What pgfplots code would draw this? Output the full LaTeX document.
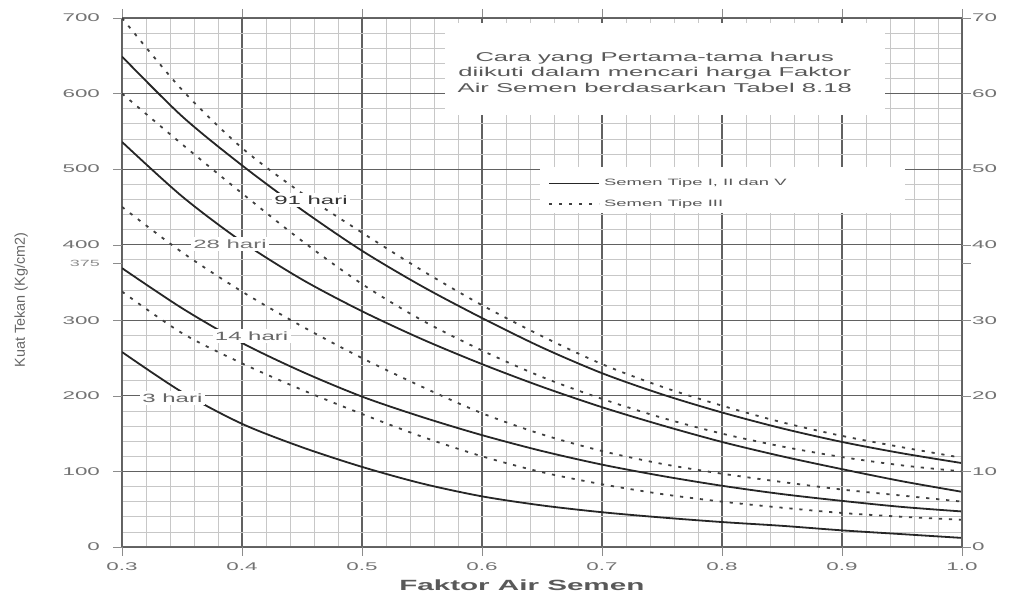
\documentclass[border=0pt]{standalone}
\usepackage{fontspec}
\setmainfont{Liberation Sans}
\newfontfamily\wide[FakeStretch=2]{Liberation Sans}
\usepackage{pgfplots}
\pgfplotsset{compat=1.18}
\begin{document}
\begin{tikzpicture}[x=1pt,y=1pt]
\useasboundingbox (0,0) rectangle (507,298.5);
\begin{axis}[
  at={(61pt,25pt)}, anchor=south west,
  scale only axis, width=420pt, height=264.5pt,
  xmin=0.3, xmax=1.0, ymin=0, ymax=700,
  xtick={0.3,0.4,0.5,0.6,0.7,0.8,0.9,1.0},
  xticklabels={0.3,0.4,0.5,0.6,0.7,0.8,0.9,1.0},
  minor x tick num=4,
  ytick={0,100,200,300,400,500,600,700},
  extra y ticks={375},
  extra y tick style={grid=none, yticklabel style={font=\wide\fontsize{4.5}{5}\selectfont, text=black!45}},
  minor y tick num=4,
  grid=both,
  major grid style={black!62, line width=0.6pt},
  minor grid style={black!22, line width=0.35pt},
  axis line style={black!60, line width=0.5pt},
  tick style={black!45},
  tick align=outside,
  major tick length=4.5pt,
  minor tick length=0pt,
  /pgf/number format/assume math mode=true,
  ticklabel style={font=\wide\fontsize{5.6}{6}\selectfont, text=black!55},
  yticklabel style={xshift=-3pt},
  xticklabel style={yshift=0pt},
  xlabel={Faktor Air Semen},
  xlabel style={font=\wide\fontsize{7.4}{8}\selectfont\bfseries, text=black!65, at={(axis description cs:0.476,0)}, anchor=center, yshift=-19pt},
  ylabel={Kuat Tekan (Kg/cm2)},
  ylabel style={font=\fontsize{7.2}{8}\selectfont, text=black!60, at={(axis description cs:-0.1202,0.467)}, anchor=center, rotate=0},
  legend style={at={(rel axis cs:0.5,0.712)}, anchor=north west, draw=none, fill=none,
    font=\wide\fontsize{4.6}{5}\selectfont, text=black!65, row sep=1.5pt},
  legend cell align=left,
  legend image code/.code={\draw[#1] (0pt,0pt) -- (25pt,0pt);},
]
\fill[white] (rel axis cs:0.3845,0.8166) rectangle (rel axis cs:0.908,0.99);
\fill[white] (rel axis cs:0.4976,0.631) rectangle (rel axis cs:0.932,0.718);

\addlegendimage{black!85, line width=0.9pt}
\addlegendentry{Semen Tipe I, II dan V}
\addlegendimage{black!75, line width=0.9pt, dash pattern=on 1.6pt off 3.4pt}
\addlegendentry{Semen Tipe III}

% Type III (dotted)
\addplot[forget plot, black!75, line width=0.9pt, dash pattern=on 1.6pt off 3.4pt, smooth, tension=0.5] coordinates {
(0.30,700) (0.35,605) (0.40,528) (0.45,468) (0.50,416) (0.55,366) (0.60,320) (0.65,279) (0.70,242) (0.75,212) (0.80,187) (0.85,165) (0.90,147) (0.95,132) (1.00,118)};
\addplot[forget plot, black!75, line width=0.9pt, dash pattern=on 1.6pt off 3.4pt, smooth, tension=0.5] coordinates {
(0.30,600) (0.35,533) (0.40,468) (0.45,405) (0.50,348) (0.55,300) (0.60,260) (0.65,225) (0.70,196) (0.75,171) (0.80,150) (0.85,133) (0.90,119) (0.95,108) (1.00,100)};
\addplot[forget plot, black!75, line width=0.9pt, dash pattern=on 1.6pt off 3.4pt, smooth, tension=0.5] coordinates {
(0.30,450) (0.35,390) (0.40,338) (0.45,292) (0.50,250) (0.55,212) (0.60,177) (0.65,149) (0.70,127) (0.75,110) (0.80,97) (0.85,86) (0.90,76) (0.95,68) (1.00,60)};
\addplot[forget plot, black!75, line width=0.9pt, dash pattern=on 1.6pt off 3.4pt, smooth, tension=0.5] coordinates {
(0.30,338) (0.35,283) (0.40,243) (0.45,208) (0.50,176) (0.55,146) (0.60,120) (0.65,99) (0.70,83) (0.75,70) (0.80,60) (0.85,52) (0.90,45) (0.95,40) (1.00,36)};

% Type I, II, V (solid)
\addplot[forget plot, black!85, line width=0.9pt, smooth, tension=0.5] coordinates {
(0.30,649) (0.35,570) (0.40,505) (0.45,446) (0.50,392) (0.55,345) (0.60,303) (0.65,264) (0.70,230) (0.75,202) (0.80,178) (0.85,157) (0.90,139) (0.95,124) (1.00,111)};
\addplot[forget plot, black!85, line width=0.9pt, smooth, tension=0.5] coordinates {
(0.30,536) (0.35,464) (0.40,404) (0.45,354) (0.50,312) (0.55,275) (0.60,242) (0.65,212) (0.70,185) (0.75,161) (0.80,139) (0.85,120) (0.90,103) (0.95,87) (1.00,73)};
\addplot[forget plot, black!85, line width=0.9pt, smooth, tension=0.5] coordinates {
(0.30,369) (0.35,316) (0.40,270) (0.45,232) (0.50,199) (0.55,172) (0.60,148) (0.65,127) (0.70,109) (0.75,94) (0.80,81) (0.85,70) (0.90,61) (0.95,53) (1.00,47)};
\addplot[forget plot, black!85, line width=0.9pt, smooth, tension=0.5] coordinates {
(0.30,258) (0.35,205) (0.40,163) (0.45,132) (0.50,106) (0.55,84) (0.60,67) (0.65,55) (0.70,46) (0.75,39) (0.80,33) (0.85,28) (0.90,22) (0.95,17) (1.00,12)};

\node[fill=white, inner sep=1.2pt, font=\wide\fontsize{6}{7}\selectfont, text=black!80] at (axis cs:0.4575,459) {91 hari};
\node[fill=white, inner sep=1.2pt, font=\wide\fontsize{6}{7}\selectfont, text=black!55] at (axis cs:0.39,401) {28 hari};
\node[fill=white, inner sep=1.2pt, font=\wide\fontsize{6}{7}\selectfont, text=black!60] at (axis cs:0.408,279) {14 hari};
\node[fill=white, inner sep=1.2pt, font=\wide\fontsize{6}{7}\selectfont, text=black!60] at (axis cs:0.342,197) {3 hari};

\node[align=center, font=\wide\fontsize{6.4}{7.75}\selectfont, text=black!65] at (axis cs:0.744,628.6)
  {Cara yang Pertama-tama harus\\diikuti dalam mencari harga Faktor\\Air Semen berdasarkan Tabel 8.18};
\end{axis}
\begin{axis}[
  at={(61pt,25pt)}, anchor=south west,
  scale only axis, width=420pt, height=264.5pt,
  xmin=0.3, xmax=1.0, ymin=0, ymax=70,
  axis x line=none, axis y line*=right,
  ytick={0,10,20,30,40,50,60,70},
  tick align=outside, major tick length=4pt,
  tick style={black!45},
  axis line style={black!60, line width=0.5pt},
  /pgf/number format/assume math mode=true,
  ticklabel style={font=\wide\fontsize{5.6}{6}\selectfont, text=black!55},
  yticklabel style={xshift=-2.5pt},
]
\addplot[draw=none] coordinates {(0.3,0) (1.0,70)};
\end{axis}
\end{tikzpicture}
\end{document}
